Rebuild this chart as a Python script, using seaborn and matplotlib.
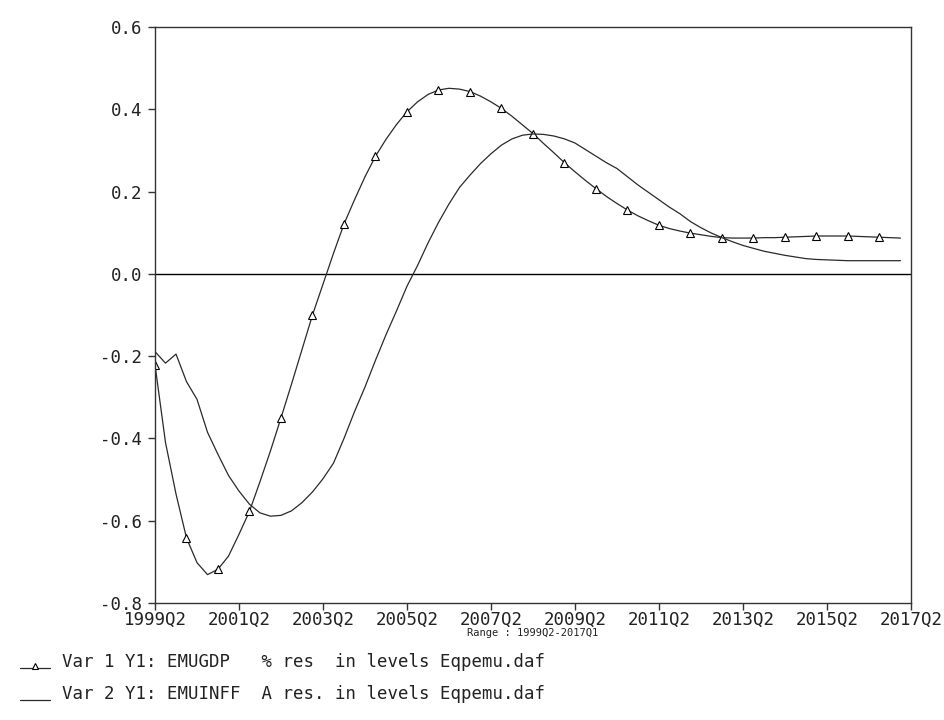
import numpy as np
import pandas as pd
import matplotlib
matplotlib.use("Agg")
import matplotlib.pyplot as plt
from matplotlib.lines import Line2D
import seaborn as sns

# ---- data (quarterly, 1999Q2 .. 2017Q1) ----
tick_labels = ["1999Q2", "2001Q2", "2003Q2", "2005Q2", "2007Q2",
               "2009Q2", "2011Q2", "2013Q2", "2015Q2", "2017Q2"]
y_ticks = [-0.8, -0.6, -0.4, -0.2, 0.0, 0.2, 0.4, 0.6]

emugdp = [-0.221, -0.41, -0.535, -0.642, -0.702, -0.731, -0.718, -0.686, -0.633, -0.577,
          -0.505, -0.43, -0.350, -0.268, -0.184, -0.100, -0.025, 0.050, 0.121, 0.180,
          0.236, 0.286, 0.327, 0.363, 0.394, 0.418, 0.436, 0.447, 0.451, 0.449,
          0.443, 0.432, 0.418, 0.402, 0.383, 0.362, 0.341, 0.317, 0.294, 0.270,
          0.248, 0.227, 0.207, 0.188, 0.171, 0.155, 0.141, 0.129, 0.118, 0.110,
          0.104, 0.099, 0.095, 0.091, 0.088, 0.087, 0.087, 0.087, 0.088, 0.088,
          0.089, 0.090, 0.091, 0.092, 0.092, 0.092, 0.092, 0.091, 0.090, 0.089,
          0.088, 0.087]

emuinff = [-0.189, -0.217, -0.195, -0.262, -0.305, -0.385, -0.439, -0.490, -0.528, -0.560,
           -0.581, -0.589, -0.587, -0.576, -0.556, -0.530, -0.498, -0.460, -0.400, -0.335,
           -0.275, -0.210, -0.148, -0.090, -0.030, 0.020, 0.075, 0.125, 0.170, 0.210,
           0.240, 0.268, 0.292, 0.313, 0.328, 0.337, 0.340, 0.339, 0.335, 0.328,
           0.318, 0.302, 0.286, 0.270, 0.256, 0.236, 0.216, 0.198, 0.180, 0.162,
           0.146, 0.127, 0.112, 0.099, 0.088, 0.078, 0.069, 0.062, 0.055, 0.050,
           0.045, 0.041, 0.037, 0.035, 0.034, 0.033, 0.032, 0.032, 0.032, 0.032,
           0.032, 0.032]

legend_lines = ["Var 1 Y1: EMUGDP   % res  in levels Eqpemu.daf",
                "Var 2 Y1: EMUINFF  A res. in levels Eqpemu.daf"]
range_text = "Range : 1999Q2-2017Q1"

df = pd.DataFrame({"q": np.arange(len(emugdp)), "EMUGDP": emugdp, "EMUINFF": emuinff})

sns.set_theme(style="white")
plt.rcParams["font.family"] = ["DejaVu Sans Mono", "DejaVu Sans"]

fig = plt.figure(figsize=(9.45, 7.2), dpi=100)
ax = fig.add_axes([155 / 945, 1 - 603 / 720, (911 - 155) / 945, (603 - 27) / 720])

lc = "#2a2a2a"
txt = "#222222"
sns.lineplot(data=df, x="q", y="EMUGDP", ax=ax, color=lc, lw=0.9,
             marker="^", markevery=3, markersize=5.5, markerfacecolor="white",
             markeredgecolor="black", markeredgewidth=0.8)
sns.lineplot(data=df, x="q", y="EMUINFF", ax=ax, color=lc, lw=0.9)

ax.axhline(0, color="black", lw=1.0, zorder=0)

ax.set_xlim(0, 72)
ax.set_ylim(-0.8, 0.6)
ax.set_xticks(np.arange(0, 73, 8))
ax.set_xticklabels(tick_labels)
ax.set_yticks(y_ticks)
ax.set_yticklabels([f"{v:.1f}" for v in y_ticks])
ax.set_xlabel("")
ax.set_ylabel("")
for s in ax.spines.values():
    s.set_visible(True)
    s.set_color("#333333")
    s.set_linewidth(1.0)
ax.tick_params(axis="both", direction="out", length=5, width=1, color="#333333",
               labelsize=12.5, labelcolor=txt)
ax.tick_params(axis="x", bottom=True, pad=1)
ax.tick_params(axis="y", left=True, pad=4)

fig.text((155 + 911) / 2 / 945, 1 - 633 / 720, range_text, ha="center", va="center",
         fontsize=7.5, color=txt)

# legend samples
y1 = 1 - 662 / 720
y2 = 1 - 694 / 720
fig.add_artist(Line2D([20 / 945, 50 / 945], [y1 - 0.008, y1 - 0.008], transform=fig.transFigure,
                      color=lc, lw=0.9))
fig.add_artist(Line2D([35 / 945], [y1 - 0.006], transform=fig.transFigure, marker="^",
                      markersize=4, markerfacecolor="white", markeredgecolor="black",
                      markeredgewidth=0.8, lw=0))
fig.add_artist(Line2D([20 / 945, 50 / 945], [y2 - 0.008, y2 - 0.008], transform=fig.transFigure,
                      color=lc, lw=0.9))
fig.text(62 / 945, y1, legend_lines[0], ha="left", va="center", fontsize=12.5, color=txt)
fig.text(62 / 945, y2, legend_lines[1], ha="left", va="center", fontsize=12.5, color=txt)

fig.savefig("out.png", dpi=100, facecolor="white")
